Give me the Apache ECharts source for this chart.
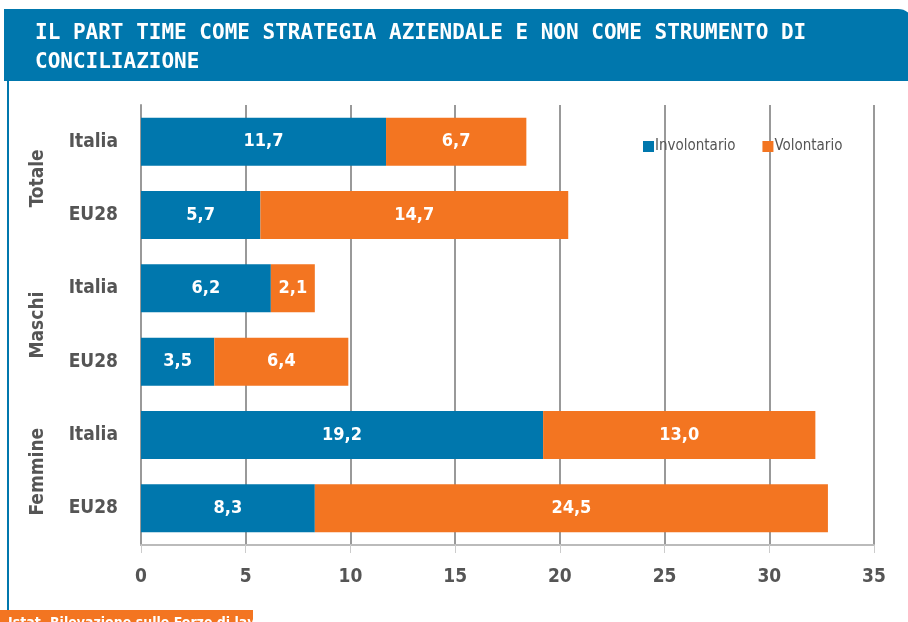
<!DOCTYPE html>
<html>
<head>
<meta charset="utf-8">
<script src="https://cdn.jsdelivr.net/npm/echarts@6/dist/echarts.min.js"></script>
<style>
  html, body { margin: 0; padding: 0; background: #fff; }
  #chart { width: 908px; height: 622px; }
</style>
</head>
<body>
<div id="chart"></div>
<script>
// dati
var paesi = ['Italia', 'EU28', 'Italia', 'EU28', 'Italia', 'EU28'];
var gruppi = ['Totale', 'Maschi', 'Femmine'];
var involontario = [11.7, 5.7, 6.2, 3.5, 19.2, 8.3];
var volontario = [6.7, 14.7, 2.1, 6.4, 13.0, 24.5];
var xTicks = [0, 5, 10, 15, 20, 25, 30, 35];

var BLU = '#0077AD';
var ARANCIO = '#F37521';
var FONT = "'Liberation Sans Narrow', 'DejaVu Sans Condensed', sans-serif";

var chart = echarts.init(document.getElementById('chart'));

// etichette numeriche con la virgola
function virgola(p) {
  return p.value.toFixed(1).replace('.', ',');
}

chart.setOption({
  animation: false,
  backgroundColor: '#fff',
  grid: { left: 141, right: 34, top: 105, bottom: 77 },
  legend: {
    left: 638, top: 134,
    itemWidth: 11, itemHeight: 11, itemGap: 27,
    icon: 'rect',
    textStyle: { fontFamily: FONT, fontSize: 15, color: '#555', padding: [0, 0, 0, -4] },
    data: ['Involontario', 'Volontario']
  },
  xAxis: {
    type: 'value',
    min: xTicks[0], max: xTicks[xTicks.length - 1], interval: 5,
    axisLine: { show: true, lineStyle: { color: '#bbb', width: 2 } },
    axisTick: { show: true, length: 8, lineStyle: { color: '#ccc', width: 1 } },
    splitLine: { show: true, lineStyle: { color: '#999', width: 2 } },
    axisLabel: { margin: 23, fontFamily: FONT, fontWeight: 'bold', fontSize: 19, color: '#555' }
  },
  yAxis: [
    {
      type: 'category', inverse: true, data: paesi,
      axisLine: { show: true, lineStyle: { color: '#999', width: 2 } },
      axisTick: { show: false },
      axisLabel: { margin: 23, fontFamily: FONT, fontWeight: 'bold', fontSize: 19, color: '#555' }
    },
    {
      type: 'category', inverse: true, data: gruppi, position: 'left',
      axisLine: { show: false }, axisTick: { show: false },
      axisLabel: {
        rotate: 90, margin: 103, align: 'center', verticalAlign: 'middle',
        fontFamily: FONT, fontWeight: 'bold', fontSize: 19, color: '#555'
      }
    }
  ],
  series: [
    {
      name: 'Involontario', type: 'bar', stack: 'pt', yAxisIndex: 0,
      data: involontario, barWidth: 48,
      itemStyle: { color: BLU },
      label: { show: true, position: 'inside', formatter: virgola, color: '#fff',
               fontFamily: FONT, fontWeight: 'bold', fontSize: 18 }
    },
    {
      name: 'Volontario', type: 'bar', stack: 'pt', yAxisIndex: 0,
      data: volontario, barWidth: 48,
      itemStyle: { color: ARANCIO },
      label: { show: true, position: 'inside', formatter: virgola, color: '#fff',
               fontFamily: FONT, fontWeight: 'bold', fontSize: 18 }
    }
  ],
  graphic: [
    // testata blu
    { type: 'rect', shape: { x: 4, y: 9, width: 910, height: 72, r: [0, 16, 0, 0] },
      style: { fill: BLU }, silent: true },
    { type: 'text', left: 35, top: 19,
      style: { text: 'IL PART TIME COME STRATEGIA AZIENDALE E NON COME STRUMENTO DI\nCONCILIAZIONE',
               fill: '#fff', font: "bold 21px 'DejaVu Sans Mono', monospace", lineHeight: 29 } },
    // bordo sinistro
    { type: 'rect', shape: { x: 7, y: 81, width: 2, height: 531 }, style: { fill: BLU }, silent: true },
    // nota fonte (tagliata)
    { type: 'rect', shape: { x: 0, y: 610, width: 253, height: 14 }, style: { fill: ARANCIO }, silent: true },
    { type: 'text', left: 8, top: 616,
      style: { text: 'Istat, Rilevazione sulle Forze di lavoro', fill: '#fff',
               font: "bold 14px 'DejaVu Sans Condensed', sans-serif" } }
  ]
});
</script>
</body>
</html>
